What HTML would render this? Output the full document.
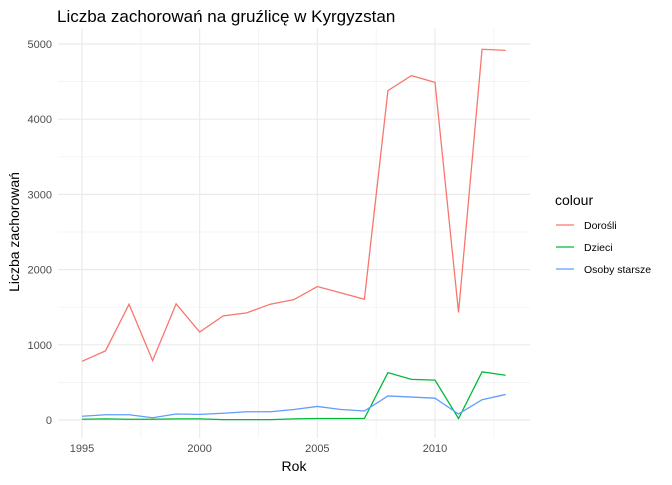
<!DOCTYPE html>
<html><head><meta charset="utf-8"><style>
body{margin:0;background:#fff;font-family:"Liberation Sans",sans-serif}
</style></head><body>
<svg id="chart" width="672" height="480" xmlns="http://www.w3.org/2000/svg" font-family="Liberation Sans, sans-serif">
<text x="57" y="22" font-size="17" fill="#000">Liczba zachorowań na gruźlicę w Kyrgyzstan</text>
<g id="grid"></g><g id="series"></g><g id="axes"></g>
<text x="294" y="471" font-size="14" text-anchor="middle">Rok</text>
<text transform="translate(19,232) rotate(-90)" font-size="14" text-anchor="middle">Liczba zachorowań</text>
<g id="legend">
<text x="555" y="205" font-size="14">colour</text>
</g>
</svg>
<script>
const years=[1995,1996,1997,1998,1999,2000,2001,2002,2003,2004,2005,2006,2007,2008,2009,2010,2011,2012,2013];
const adults=[780,920,1540,790,1545,1170,1385,1425,1540,1600,1775,1690,1605,4380,4580,4490,1430,4930,4915];
const children=[10,15,10,10,15,15,5,5,5,15,20,20,20,630,540,530,20,640,595];
const elderly=[50,70,70,30,80,75,90,110,110,140,180,140,120,320,305,290,80,270,340];
const seriesNames=["Dorośli","Dzieci","Osoby starsze"];
const xTicks=[1995,2000,2005,2010];
const yTicks=[0,1000,2000,3000,4000,5000];
const colors=["#F8766D","#00BA38","#619CFF"];
const X=v=>82+(v-1995)*(435-82)/15;
const Y=v=>420-v*(420-44)/5000;
const ns="http://www.w3.org/2000/svg";
function mk(p,t,a){const e=document.createElementNS(ns,t);for(const k in a)e.setAttribute(k,a[k]);p.appendChild(e);return e;}
const grid=document.getElementById('grid'),axes=document.getElementById('axes'),ser=document.getElementById('series'),leg=document.getElementById('legend');
const L=58,R=530,T=28,B=438;
for(let v=500;v<5000;v+=1000){const l=mk(grid,'line',{x1:L,x2:R,y1:Y(v),y2:Y(v),stroke:'#f0f0f0','stroke-width':0.7});

}
for(let v=1997.5;v<2014;v+=5){const l=mk(grid,'line',{x1:X(v),x2:X(v),y1:T,y2:B,stroke:'#f0f0f0','stroke-width':0.7});

}
yTicks.forEach(v=>{const l=mk(grid,'line',{x1:L,x2:R,y1:Y(v),y2:Y(v),stroke:'#ebebeb','stroke-width':1.2});


const t=mk(axes,'text',{x:52,y:Y(v)+4,'font-size':11,fill:'#4d4d4d','text-anchor':'end'});t.textContent=v;

});
xTicks.forEach(v=>{const l=mk(grid,'line',{x1:X(v),x2:X(v),y1:T,y2:B,stroke:'#ebebeb','stroke-width':1.2});


const t=mk(axes,'text',{x:X(v),y:452,'font-size':11,fill:'#4d4d4d','text-anchor':'middle'});t.textContent=v;

});
[adults,children,elderly].forEach((d,i)=>{
const p=mk(ser,'polyline',{points:d.map((v,j)=>X(years[j])+','+Y(v)).join(' '),fill:'none',stroke:colors[i],'stroke-width':1.3});


const y=225+i*22;
const k=mk(leg,'line',{x1:556,x2:574,y1:y,y2:y,stroke:colors[i],'stroke-width':1.3});


const t=mk(leg,'text',{x:584,y:y+4,'font-size':10.5,fill:'#000'});t.textContent=seriesNames[i];


});
</script>
</body></html>
